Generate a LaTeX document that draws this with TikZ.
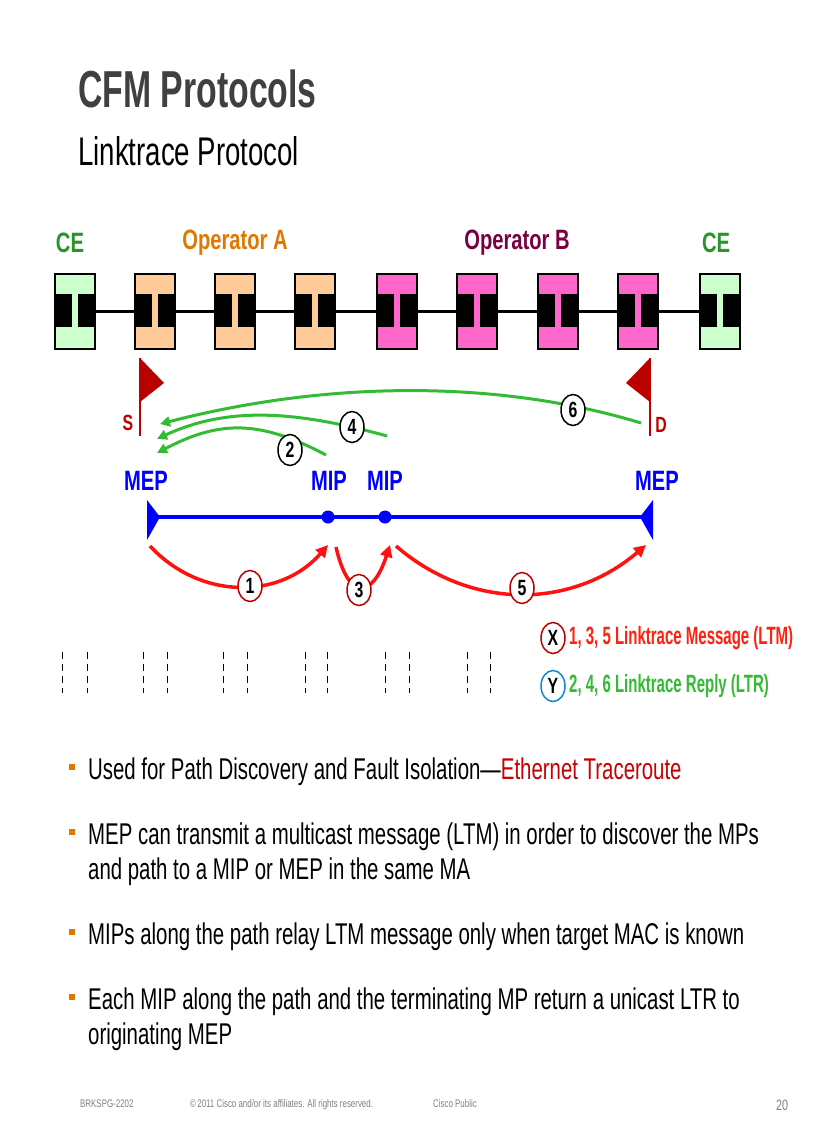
\documentclass[tikz,border=0pt]{standalone}
\usetikzlibrary{arrows.meta,shapes.geometric}
\usepackage{fontspec}
\setmainfont{Liberation Sans}
\usepackage{graphicx}
\newcommand{\nar}[1]{\scalebox{0.72}[1]{#1}}
\newcommand{\narb}[1]{\scalebox{0.68}[1]{#1}}
\definecolor{ceg}{HTML}{CCFFCC}
\definecolor{opa}{HTML}{FFCC99}
\definecolor{opb}{HTML}{FF66CC}
\definecolor{lgreen}{HTML}{33BB33}
\definecolor{lred}{HTML}{FF1111}
\definecolor{dred}{HTML}{BB0000}
\definecolor{oran}{HTML}{E07800}
\definecolor{purp}{HTML}{7A0040}
\definecolor{mblue}{HTML}{0000FF}
\definecolor{ttl}{HTML}{404040}
\begin{document}
\begin{tikzpicture}[x=1pt,y=-1pt,
  dev/.style={draw=black,line width=2pt,minimum width=40pt,minimum height=75pt,inner sep=0pt},
  num/.style={ellipse,draw=black,fill=white,line width=1.5pt,inner sep=0pt,minimum width=24pt,minimum height=31pt,font=\fontsize{22}{22}\selectfont\bfseries},
  rnum/.style={num,draw=dred},
  lbl/.style={font=\fontsize{28}{28}\selectfont\bfseries},
  bul/.style={anchor=base west,font=\fontsize{30}{34}\selectfont,inner sep=0pt,align=left},
  sq/.style={fill=oran,minimum size=6pt,inner sep=0pt},
  foot/.style={anchor=base west,font=\fontsize{11}{11}\selectfont,text=gray,inner sep=0pt},
  red arr/.style={draw=lred,line width=3.5pt,-{Triangle[length=12pt,width=12pt]}},
  grn arr/.style={draw=lgreen,line width=3pt,-{Triangle[length=10pt,width=10pt]}}
]
\useasboundingbox (0,0) rectangle (816,1123);
\fill[white] (0,0) rectangle (816,1123);
% title
\node[anchor=base west,inner sep=0pt,text=ttl,font=\fontsize{52}{52}\selectfont\bfseries] (title) at (78,108) {\scalebox{0.65}[1]{CFM Protocols}};
\node[anchor=base west,inner sep=0pt,font=\fontsize{40}{40}\selectfont] (sub) at (78,166) {\scalebox{0.69}[1]{Linktrace Protocol}};
% labels
\node[lbl,text=lgreen!80!black] (ce1) at (70,243) {\nar{CE}};
\node[lbl,text=oran] (opA) at (235,243) {\nar{Operator A}};
\node[lbl,text=purp] (opB) at (517,243) {\nar{Operator B}};
\node[lbl,text=lgreen!80!black] (ce2) at (716,243) {\nar{CE}};
% link line
\draw[line width=3pt] (75,311) -- (720,311);
% devices
\foreach \x/\c [count=\i] in {75/ceg,155/opa,235/opa,315/opa,397/opb,477/opb,558/opb,638/opb,720/ceg}{
  \node[dev,fill=\c] (d\i) at (\x,311) {};
  \fill[black] (\x-20,294) rectangle (\x-3,327);
  \fill[black] (\x+3,294) rectangle (\x+20,327);
}
% flags
\draw[dred,line width=2pt] (140,358) -- (140,436);
\fill[dred] (140,358) -- (164,383) -- (140,402) -- cycle;
\node[lbl,text=dred,font=\fontsize{22}{22}\selectfont\bfseries] (S) at (128,423) {\nar{S}};
\draw[dred,line width=2pt] (650,358) -- (650,436);
\fill[dred] (650,358) -- (626,383) -- (650,402) -- cycle;
\node[lbl,text=dred,font=\fontsize{22}{22}\selectfont\bfseries] (D) at (661,425) {\nar{D}};
% MP labels
\node[lbl,text=mblue] (mep1) at (146,481) {\nar{MEP}};
\node[lbl,text=mblue] (mip1) at (329,481) {\nar{MIP}};
\node[lbl,text=mblue] (mip2) at (385,481) {\nar{MIP}};
\node[lbl,text=mblue] (mep2) at (657,481) {\nar{MEP}};
% blue line
\coordinate (bl) at (148,517);
\coordinate (br) at (652,517);
\draw[mblue,line width=4pt] (bl) -- (br);
\fill[mblue] (147,500) -- (160,517) -- (147,540) -- cycle;
\fill[mblue] (653,500) -- (640,517) -- (653,540) -- cycle;
\node[circle,fill=mblue,minimum size=13pt,inner sep=0pt] (p1) at (328,517) {};
\node[circle,fill=mblue,minimum size=13pt,inner sep=0pt] (p2) at (385,517) {};
% red arrows
\coordinate (r1s) at (150,546); \coordinate (r1e) at (328,545);
\coordinate (r3s) at (336,547); \coordinate (r3e) at (390,545);
\coordinate (r5s) at (396,546); \coordinate (r5e) at (646,545);
\draw[red arr] (r1s) .. controls (200,600) and (280,600) .. (r1e);
\draw[red arr] (r3s) .. controls (348,600) and (372,600) .. (r3e);
\draw[red arr] (r5s) .. controls (470,610) and (570,610) .. (r5e);
\node[rnum] (n1) at (250,586) {\nar{1}};
\node[rnum] (n3) at (359,590) {\nar{3}};
\node[rnum] (n5) at (522,588) {\nar{5}};
% green arrows
\coordinate (g2s) at (326,455); \coordinate (g2e) at (157,453);
\coordinate (g4s) at (387,436); \coordinate (g4e) at (157,439);
\coordinate (g6s) at (641,423); \coordinate (g6e) at (160,424);
\draw[grn arr] (g2s) .. controls (260,420) and (220,420) .. (g2e);
\draw[grn arr] (g4s) .. controls (300,412) and (230,405) .. (g4e);
\draw[grn arr] (g6s) .. controls (500,380) and (330,380) .. (g6e);
\node[num] (n2) at (290,450) {\nar{2}};
\node[num] (n4) at (352,427) {\nar{4}};
\node[num] (n6) at (573,410) {\nar{6}};
% dashed lines
\foreach \x in {62,87,143,167,223,247,305,327,385,409,467,490}{
  \draw[line width=1pt,dash pattern=on 7pt off 5pt] (\x,652) -- (\x,693);
}
% legend
\node[num,draw=dred] (lx) at (553,638) {\nar{X}};
\node[anchor=west,inner sep=0pt,font=\fontsize{25}{25}\selectfont\bfseries,text=lred!85!orange] (lxt) at (569,638) {\scalebox{0.6}[1]{1, 3, 5 Linktrace Message (LTM)}};
\node[num,draw=cyan!70!blue] (ly) at (553,686) {\nar{Y}};
\node[anchor=west,inner sep=0pt,font=\fontsize{25}{25}\selectfont\bfseries,text=lgreen] (lyt) at (569,686) {\scalebox{0.6}[1]{2, 4, 6 Linktrace Reply (LTR)}};
% bullets
\node[sq] (s1) at (72,767) {};
\node[bul] (b1) at (88,779) {\narb{Used for Path Discovery and Fault Isolation---\textcolor{dred!80!red}{Ethernet Traceroute}}};
\node[sq] (s2) at (72,832) {};
\node[bul] (b2) at (88,844) {\narb{MEP can transmit a multicast message (LTM) in order to discover the MPs}};
\node[bul] (b2b) at (88,879) {\narb{and path to a MIP or MEP in the same MA}};
\node[sq] (s3) at (72,932) {};
\node[bul] (b3) at (88,944) {\narb{MIPs along the path relay LTM message only when target MAC is known}};
\node[sq] (s4) at (72,997) {};
\node[bul] (b4) at (88,1009) {\narb{Each MIP along the path and the terminating MP return a unicast LTR to}};
\node[bul] (b4b) at (88,1044) {\narb{originating MEP}};
% footer
\node[foot] (f1) at (80,1107) {\nar{BRKSPG-2202}};
\node[foot] (f2) at (190,1107) {\nar{\textcopyright\,2011 Cisco and/or its affiliates. All rights reserved.}};
\node[foot] (f3) at (433,1107) {\nar{Cisco Public}};
\node[foot,font=\fontsize{15}{15}\selectfont] (f4) at (776,1110) {\nar{20}};
\end{tikzpicture}
\end{document}
